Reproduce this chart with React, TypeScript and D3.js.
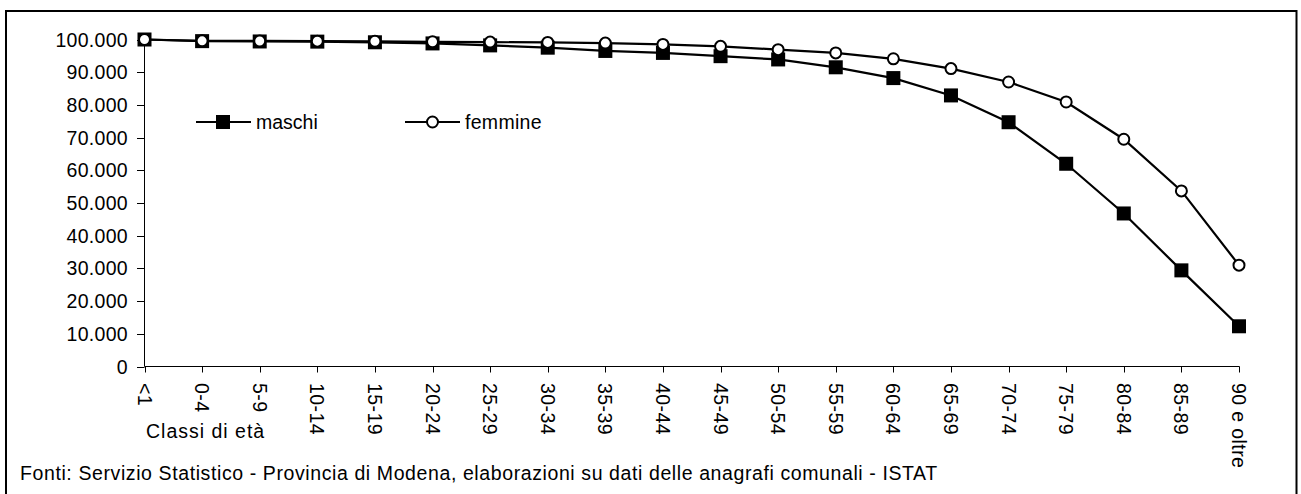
import React, { useEffect, useRef } from "react";
import * as d3 from "d3";

const categories = ["<1", "0-4", "5-9", "10-14", "15-19", "20-24", "25-29", "30-34", "35-39", "40-44", "45-49", "50-54", "55-59", "60-64", "65-69", "70-74", "75-79", "80-84", "85-89", "90 e oltre"];
const maschi = [100000, 99500, 99400, 99350, 99150, 98800, 98200, 97500, 96500, 95900, 94900, 93900, 91500, 88200, 82900, 74700, 62000, 46800, 29400, 12300];
const femmine = [100000, 99600, 99550, 99500, 99450, 99300, 99200, 99100, 98900, 98500, 97900, 96900, 95900, 94100, 91100, 87000, 80900, 69500, 53700, 31000];
const yTicks = [0, 10000, 20000, 30000, 40000, 50000, 60000, 70000, 80000, 90000, 100000];
const xTitle = "Classi di età";
const sourceNote = "Fonti: Servizio Statistico - Provincia di Modena, elaborazioni su dati delle anagrafi comunali - ISTAT";
const seriesNames = ["maschi", "femmine"];

const W = 1301;
const H = 494;
const FONT = "'Liberation Sans', Arial, sans-serif";
const FS = 19.5;

export default function App() {
  const ref = useRef<SVGSVGElement | null>(null);

  useEffect(() => {
    const svg = d3.select(ref.current);
    svg.selectAll("*").remove();

    const locale = d3.formatLocale({ decimal: ",", thousands: ".", grouping: [3], currency: ["€", ""] });
    const fmt = locale.format(",d");

    const x = d3.scalePoint<string>().domain(categories).range([144.5, 1239]);
    const y = d3.scaleLinear().domain([0, 100000]).range([366.5, 39.5]);

    // outer border
    svg.append("rect").attr("x", 6).attr("y", 11).attr("width", 1290.5).attr("height", 490)
      .attr("fill", "white").attr("stroke", "black").attr("stroke-width", 2);

    // y axis
    const gy = svg.append("g");
    gy.append("line").attr("x1", 144.5).attr("x2", 144.5).attr("y1", y(100000)).attr("y2", y(0))
      .attr("stroke", "black").attr("stroke-width", 1);
    yTicks.forEach((t) => {
      gy.append("line").attr("x1", 137).attr("x2", 144.5).attr("y1", Math.round(y(t)) + 0.5).attr("y2", Math.round(y(t)) + 0.5)
        .attr("stroke", "black").attr("stroke-width", 1);
      gy.append("text").attr("x", 128).attr("y", y(t)).attr("text-anchor", "end")
        .attr("dominant-baseline", "central").attr("font-family", FONT).attr("font-size", FS)
        .attr("letter-spacing", 0.3).attr("fill", "black").text(fmt(t));
    });

    // x axis
    const gx = svg.append("g");
    gx.append("line").attr("x1", 144.5).attr("x2", x(categories[categories.length - 1])! + 0.5)
      .attr("y1", y(0)).attr("y2", y(0)).attr("stroke", "black").attr("stroke-width", 1);
    categories.forEach((c) => {
      const cx = Math.round(x(c)!) + 0.5;
      gx.append("line").attr("x1", cx).attr("x2", cx).attr("y1", y(0)).attr("y2", y(0) + 6)
        .attr("stroke", "black").attr("stroke-width", 1);
      gx.append("text").attr("transform", `translate(${x(c)},383) rotate(90)`)
        .attr("text-anchor", "start").attr("dominant-baseline", "central")
        .attr("font-family", FONT).attr("font-size", FS).attr("letter-spacing", 0.4)
        .attr("fill", "black").text(c);
    });

    svg.append("text").attr("x", 146).attr("y", 438).attr("font-family", FONT).attr("font-size", FS)
      .attr("letter-spacing", 1).attr("fill", "black").text(xTitle);
    svg.append("text").attr("x", 20).attr("y", 480).attr("font-family", FONT).attr("font-size", FS)
      .attr("letter-spacing", 0.6).attr("fill", "black").text(sourceNote);

    const line = d3.line<number>().x((_, i) => x(categories[i])!).y((d) => y(d));

    // maschi
    svg.append("path").attr("d", line(maschi)!).attr("fill", "none").attr("stroke", "black").attr("stroke-width", 2.2);
    svg.selectAll(".sq").data(maschi).enter().append("rect")
      .attr("x", (_, i) => x(categories[i])! - 7).attr("y", (d) => y(d) - 7)
      .attr("width", 14).attr("height", 14).attr("fill", "black");

    // femmine
    svg.append("path").attr("d", line(femmine)!).attr("fill", "none").attr("stroke", "black").attr("stroke-width", 2.2);
    svg.selectAll(".ci").data(femmine).enter().append("circle")
      .attr("cx", (_, i) => x(categories[i])!).attr("cy", (d) => y(d)).attr("r", 5.5)
      .attr("fill", "white").attr("stroke", "black").attr("stroke-width", 2);

    // legend
    const lg = svg.append("g");
    const ly = 122;
    lg.append("line").attr("x1", 196).attr("x2", 251).attr("y1", ly).attr("y2", ly).attr("stroke", "black").attr("stroke-width", 2.2);
    lg.append("rect").attr("x", 216).attr("y", ly - 7).attr("width", 14).attr("height", 14).attr("fill", "black");
    lg.append("text").attr("x", 256).attr("y", ly).attr("dominant-baseline", "central").attr("font-family", FONT)
      .attr("font-size", FS).attr("fill", "black").text(seriesNames[0]);
    lg.append("line").attr("x1", 405).attr("x2", 460).attr("y1", ly).attr("y2", ly).attr("stroke", "black").attr("stroke-width", 2.2);
    lg.append("circle").attr("cx", 432.5).attr("cy", ly).attr("r", 5.5).attr("fill", "white").attr("stroke", "black").attr("stroke-width", 2);
    lg.append("text").attr("x", 465).attr("y", ly).attr("dominant-baseline", "central").attr("font-family", FONT)
      .attr("font-size", FS).attr("letter-spacing", 0.3).attr("fill", "black").text(seriesNames[1]);
  }, []);

  return (
    <div style={{ position: "absolute", left: 0, top: 0, width: W, height: H, background: "white" }}>
      <svg ref={ref} width={W} height={H} style={{ display: "block" }} />
    </div>
  );
}
